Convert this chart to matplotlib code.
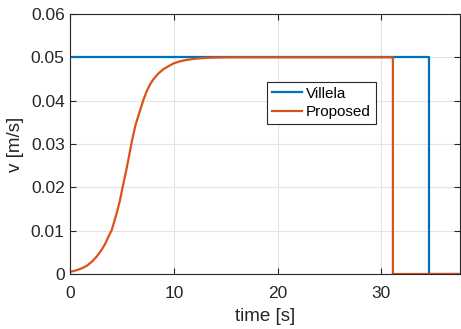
import numpy as np
import matplotlib.pyplot as plt

plt.rcParams['font.family'] = ['Liberation Sans', 'DejaVu Sans']

# Villela: constant speed, then stop
t_villela = [0.0, 34.6, 34.6, 37.6]
v_villela = [0.05, 0.05, 0.0, 0.0]

# Proposed: smooth rise, hold, stop
t_prop = [0.0, 0.5, 1.1, 1.6, 2.06, 2.5, 3.0, 3.35, 3.67, 3.99, 4.47, 4.79,
          4.98, 5.46, 5.95, 6.3, 6.72, 7.05, 7.39, 7.7, 8.03, 8.5, 9.0, 9.5,
          9.96, 10.6, 11.2, 11.8, 12.5, 13.3, 14.5, 16.0, 31.1, 31.1, 37.6]
v_prop = [0.0005, 0.0008, 0.0013, 0.0019, 0.0028, 0.0039, 0.0055, 0.0069,
          0.0086, 0.0101, 0.014, 0.017, 0.0193, 0.0247, 0.0308, 0.0345,
          0.0377, 0.0402, 0.0423, 0.0438, 0.045, 0.0463, 0.0473, 0.0480,
          0.0486, 0.0491, 0.0494, 0.0496, 0.0498, 0.0499, 0.04997, 0.05,
          0.05, 0.0, 0.0]

fig = plt.figure(figsize=(4.61, 3.29), dpi=100)
ax = fig.add_axes([70.3 / 461, 55 / 329, 390 / 461, 260 / 329])

ax.plot(t_villela, v_villela, color='#0072BD', linewidth=1.6, label='Villela')
ax.plot(t_prop, v_prop, color='#D95319', linewidth=1.6, label='Proposed')

ax.set_xlim(0, 37.6)
ax.set_ylim(0, 0.06)
ax.set_xticks([0, 10, 20, 30])
ax.set_yticks([0, 0.01, 0.02, 0.03, 0.04, 0.05, 0.06])
ax.set_yticklabels(['0', '0.01', '0.02', '0.03', '0.04', '0.05', '0.06'])
ax.grid(True, color='#e3e3e3', linewidth=0.8)
ax.set_axisbelow(True)
ax.tick_params(direction='in', top=True, right=True, length=4,
               labelsize=12.5, colors='#262626', pad=4)
ax.tick_params(axis='x', pad=9)
for s in ax.spines.values():
    s.set_color('#262626')
    s.set_linewidth(0.8)

ax.set_xlabel('time [s]', fontsize=13.5, color='#262626', labelpad=5)
ax.set_ylabel('v [m/s]', fontsize=13.5, color='#262626', labelpad=5)

leg = ax.legend(loc='lower left', bbox_to_anchor=(0.505, 0.577), fontsize=11,
                fancybox=False, framealpha=1, edgecolor='#262626',
                handlelength=2.0, borderpad=0.3, labelspacing=0.3,
                handletextpad=0.25, borderaxespad=0)
leg.get_frame().set_linewidth(0.8)

fig.savefig('out.png', dpi=100)
